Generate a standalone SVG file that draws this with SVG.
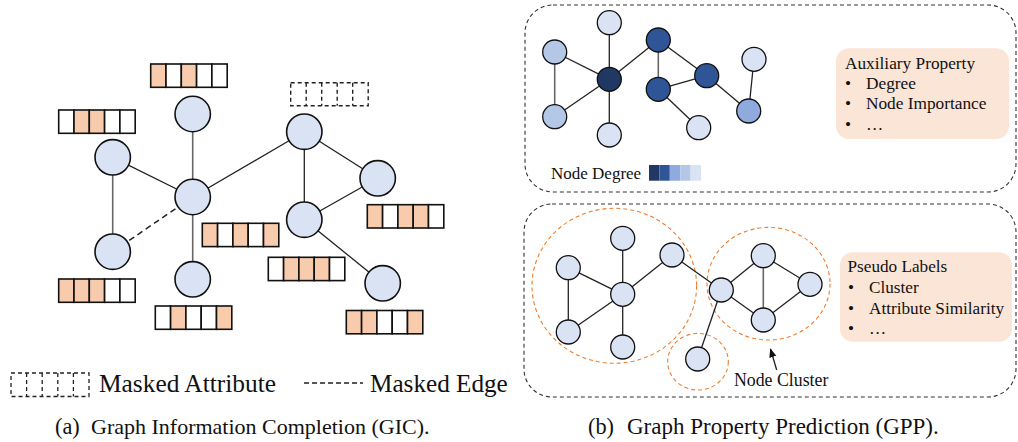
<svg xmlns="http://www.w3.org/2000/svg" width="1018" height="442" viewBox="0 0 1018 442">
<defs>
<style>
.t{font-family:"Liberation Serif","Times New Roman",serif;fill:#111}
.nd{fill:#dae3f3;stroke:#111;stroke-width:1.6}
.sn{stroke:#111;stroke-width:1.3}
.e{stroke:#222;stroke-width:1.3;fill:none}
.eg{stroke:#666;stroke-width:1.6;fill:none}
.ed{stroke:#222;stroke-width:1.5;fill:none;stroke-dasharray:6 4}
.cw{fill:#fff;stroke:#111;stroke-width:1.6}
.co{fill:#f8cbad;stroke:#111;stroke-width:1.6}
.box{fill:none;stroke:#333;stroke-width:1.1;stroke-dasharray:4 3}
.clu{fill:none;stroke:#ed7d31;stroke-width:1.1;stroke-dasharray:4 3}
.lbl{fill:#fbe5d6}
.l1{fill:#dae3f3}.l2{fill:#b4c7e7}.l3{fill:#8faadc}.l4{fill:#2f5597}.l5{fill:#203864}
</style>
<marker id="ar" viewBox="0 0 10 10" refX="9" refY="5" markerWidth="7" markerHeight="7" orient="auto-start-reverse">
<path d="M0,1 L10,5 L0,9 z" fill="#111"/>
</marker>
</defs>

<!-- (a) connectors -->
<g id="connectors-a">
<line class="e" x1="112.7" y1="157.3" x2="192.7" y2="197"/>
<line class="eg" x1="192.7" y1="114" x2="192.7" y2="197"/>
<line class="e" x1="192.7" y1="197" x2="304.3" y2="131.7"/>
<line class="eg" x1="112.7" y1="157.3" x2="112.7" y2="251.7"/>
<line class="ed" x1="112.7" y1="251.7" x2="192.7" y2="197"/>
<line class="eg" x1="192.7" y1="197" x2="192.7" y2="279.3"/>
<line class="e" x1="304.3" y1="131.7" x2="377.7" y2="178.3"/>
<line class="e" x1="304.3" y1="131.7" x2="304.3" y2="219.7"/>
<line class="e" x1="304.3" y1="219.7" x2="377.7" y2="178.3"/>
<line class="e" x1="304.3" y1="219.7" x2="382.7" y2="283.3"/>
</g>

<!-- (a) nodes -->
<g id="a-n1"><circle class="nd" cx="192.7" cy="114" r="17.7"/></g>
<g id="a-n2"><circle class="nd" cx="112.7" cy="157.3" r="17.7"/></g>
<g id="a-n3"><circle class="nd" cx="192.7" cy="197" r="17.7"/></g>
<g id="a-n4"><circle class="nd" cx="112.7" cy="251.7" r="17.7"/></g>
<g id="a-n5"><circle class="nd" cx="192.7" cy="279.3" r="17.7"/></g>
<g id="a-n6"><circle class="nd" cx="304.3" cy="131.7" r="17.7"/></g>
<g id="a-n7"><circle class="nd" cx="377.7" cy="178.3" r="17.7"/></g>
<g id="a-n8"><circle class="nd" cx="304.3" cy="219.7" r="17.7"/></g>
<g id="a-n9"><circle class="nd" cx="382.7" cy="283.3" r="17.7"/></g>

<!-- attribute vectors -->
<g id="attr-n1" transform="translate(150.7,64)">
<rect class="co" x="0" y="0" width="15.3" height="23.3"/><rect class="cw" x="15.3" y="0" width="15.3" height="23.3"/><rect class="co" x="30.6" y="0" width="15.3" height="23.3"/><rect class="cw" x="45.9" y="0" width="15.3" height="23.3"/><rect class="cw" x="61.2" y="0" width="15.3" height="23.3"/>
</g>
<g id="attr-n2" transform="translate(58.7,110)">
<rect class="cw" x="0" y="0" width="15.3" height="23.3"/><rect class="co" x="15.3" y="0" width="15.3" height="23.3"/><rect class="co" x="30.6" y="0" width="15.3" height="23.3"/><rect class="cw" x="45.9" y="0" width="15.3" height="23.3"/><rect class="cw" x="61.2" y="0" width="15.3" height="23.3"/>
</g>
<g id="attr-n3" transform="translate(202.3,223.3)">
<rect class="co" x="0" y="0" width="15.3" height="23.3"/><rect class="cw" x="15.3" y="0" width="15.3" height="23.3"/><rect class="co" x="30.6" y="0" width="15.3" height="23.3"/><rect class="cw" x="45.9" y="0" width="15.3" height="23.3"/><rect class="co" x="61.2" y="0" width="15.3" height="23.3"/>
</g>
<g id="attr-n4" transform="translate(58.7,279)">
<rect class="co" x="0" y="0" width="15.3" height="23.3"/><rect class="co" x="15.3" y="0" width="15.3" height="23.3"/><rect class="co" x="30.6" y="0" width="15.3" height="23.3"/><rect class="cw" x="45.9" y="0" width="15.3" height="23.3"/><rect class="cw" x="61.2" y="0" width="15.3" height="23.3"/>
</g>
<g id="attr-n5" transform="translate(155.3,306)">
<rect class="cw" x="0" y="0" width="15.3" height="23.3"/><rect class="co" x="15.3" y="0" width="15.3" height="23.3"/><rect class="cw" x="30.6" y="0" width="15.3" height="23.3"/><rect class="cw" x="45.9" y="0" width="15.3" height="23.3"/><rect class="co" x="61.2" y="0" width="15.3" height="23.3"/>
</g>
<g id="attr-n7" transform="translate(367.3,204.7)">
<rect class="co" x="0" y="0" width="15.3" height="23.3"/><rect class="cw" x="15.3" y="0" width="15.3" height="23.3"/><rect class="co" x="30.6" y="0" width="15.3" height="23.3"/><rect class="co" x="45.9" y="0" width="15.3" height="23.3"/><rect class="cw" x="61.2" y="0" width="15.3" height="23.3"/>
</g>
<g id="attr-n8" transform="translate(268.3,257.3)">
<rect class="cw" x="0" y="0" width="15.3" height="23.3"/><rect class="co" x="15.3" y="0" width="15.3" height="23.3"/><rect class="co" x="30.6" y="0" width="15.3" height="23.3"/><rect class="co" x="45.9" y="0" width="15.3" height="23.3"/><rect class="cw" x="61.2" y="0" width="15.3" height="23.3"/>
</g>
<g id="attr-n9" transform="translate(346.3,310.5)">
<rect class="co" x="0" y="0" width="15.3" height="23.3"/><rect class="co" x="15.3" y="0" width="15.3" height="23.3"/><rect class="cw" x="30.6" y="0" width="15.3" height="23.3"/><rect class="cw" x="45.9" y="0" width="15.3" height="23.3"/><rect class="co" x="61.2" y="0" width="15.3" height="23.3"/>
</g>
<g id="attr-n6-masked" transform="translate(290.7,82.7)" fill="none" stroke="#222" stroke-width="1.4" stroke-dasharray="4 3">
<rect x="0" y="0" width="77.5" height="23"/>
<line x1="15.5" y1="0" x2="15.5" y2="23"/><line x1="31" y1="0" x2="31" y2="23"/><line x1="46.5" y1="0" x2="46.5" y2="23"/><line x1="62" y1="0" x2="62" y2="23"/>
</g>

<!-- legend -->
<g id="legend">
<g transform="translate(11,373)" fill="none" stroke="#222" stroke-width="1.3" stroke-dasharray="4 3">
<rect x="0" y="0" width="78" height="23.5"/>
<line x1="15.6" y1="0" x2="15.6" y2="23.5"/><line x1="31.2" y1="0" x2="31.2" y2="23.5"/><line x1="46.8" y1="0" x2="46.8" y2="23.5"/><line x1="62.4" y1="0" x2="62.4" y2="23.5"/>
</g>
<text class="t" x="99" y="391.5" font-size="25.4">Masked Attribute</text>
<line x1="304" y1="383" x2="363" y2="383" stroke="#222" stroke-width="1.3" stroke-dasharray="5 3"/>
<text class="t" x="370" y="391.5" font-size="25.2">Masked Edge</text>
</g>
<g id="caption-a">
<text class="t" x="55" y="434" font-size="22.3">(a)</text>
<text class="t" x="91" y="434" font-size="22">Graph Information Completion (GIC).</text>
</g>

<!-- (b) top panel -->
<g id="panel-top">
<rect class="box" x="525" y="5" width="491" height="187" rx="28"/>
</g>
<g id="connectors-b1">
<line class="e" x1="609.3" y1="22.7" x2="609.3" y2="79.3"/>
<line class="e" x1="554.7" y1="52" x2="609.3" y2="79.3"/>
<line class="eg" x1="554.7" y1="52" x2="554.7" y2="116.7"/>
<line class="e" x1="554.7" y1="116.7" x2="609.3" y2="79.3"/>
<line class="e" x1="609.3" y1="79.3" x2="609.3" y2="135"/>
<line class="e" x1="609.3" y1="79.3" x2="658.3" y2="40"/>
<line class="eg" x1="658.3" y1="40" x2="658.3" y2="89.3"/>
<line class="e" x1="658.3" y1="40" x2="706.7" y2="75.7"/>
<line class="e" x1="658.3" y1="89.3" x2="706.7" y2="75.7"/>
<line class="e" x1="658.3" y1="89.3" x2="698.7" y2="127.7"/>
<line class="e" x1="706.7" y1="75.7" x2="748.7" y2="111"/>
<line class="e" x1="754" y1="59.3" x2="748.7" y2="111"/>
</g>
<g id="b1-a"><circle class="sn l1" cx="609.3" cy="22.7" r="12"/></g>
<g id="b1-b"><circle class="sn l2" cx="554.7" cy="52" r="12"/></g>
<g id="b1-c"><circle class="sn l5" cx="609.3" cy="79.3" r="12"/></g>
<g id="b1-d"><circle class="sn l2" cx="554.7" cy="116.7" r="12"/></g>
<g id="b1-e"><circle class="sn l1" cx="609.3" cy="135" r="12"/></g>
<g id="b1-f"><circle class="sn l4" cx="658.3" cy="40" r="12"/></g>
<g id="b1-g"><circle class="sn l4" cx="658.3" cy="89.3" r="12"/></g>
<g id="b1-h"><circle class="sn l4" cx="706.7" cy="75.7" r="12"/></g>
<g id="b1-i"><circle class="sn l1" cx="698.7" cy="127.7" r="12"/></g>
<g id="b1-j"><circle class="sn l1" cx="754" cy="59.3" r="12"/></g>
<g id="b1-k"><circle class="sn l3" cx="748.7" cy="111" r="12"/></g>
<g id="degree-legend">
<text class="t" x="551" y="178.5" font-size="17">Node Degree</text>
<rect class="l5" x="649" y="165" width="10.4" height="15.7"/>
<rect class="l4" x="659.4" y="165" width="10.4" height="15.7"/>
<rect class="l3" x="669.8" y="165" width="10.4" height="15.7"/>
<rect class="l2" x="680.2" y="165" width="10.4" height="15.7"/>
<rect class="l1" x="690.6" y="165" width="10.4" height="15.7"/>
</g>
<g id="aux-property">
<rect class="lbl" x="836" y="48.3" width="173" height="90.7" rx="13"/>
<text class="t" x="845" y="68.5" font-size="17.3">Auxiliary Property</text>
<text class="t" x="845" y="89.3" font-size="17.3">•</text>
<text class="t" x="866" y="89.3" font-size="17.3">Degree</text>
<text class="t" x="845" y="109.3" font-size="17.3">•</text>
<text class="t" x="866" y="109.3" font-size="17.3">Node Importance</text>
<text class="t" x="845" y="129.5" font-size="17.3">•</text>
<text class="t" x="866" y="129.5" font-size="17.3">…</text>
</g>

<!-- (b) bottom panel -->
<g id="panel-bottom">
<rect class="box" x="524" y="204" width="492" height="193" rx="28"/>
</g>
<g id="clusters">
<ellipse class="clu" cx="614.3" cy="285.8" rx="82.3" ry="77.5"/>
<ellipse class="clu" cx="768.5" cy="283.7" rx="61.5" ry="56.3"/>
<ellipse class="clu" cx="698" cy="361.7" rx="30.3" ry="28.3"/>
</g>
<g id="connectors-b2">
<line class="e" x1="622.7" y1="238.3" x2="622.7" y2="294.3"/>
<line class="e" x1="568.3" y1="267.7" x2="622.7" y2="294.3"/>
<line class="e" x1="568.3" y1="267.7" x2="568.3" y2="332"/>
<line class="e" x1="568.3" y1="332" x2="622.7" y2="294.3"/>
<line class="e" x1="622.7" y1="294.3" x2="622.7" y2="347"/>
<line class="e" x1="622.7" y1="294.3" x2="672" y2="255"/>
<line class="e" x1="672" y1="255" x2="721.3" y2="290"/>
<line class="e" x1="721.3" y1="290" x2="763.3" y2="255.7"/>
<line class="e" x1="721.3" y1="290" x2="763.3" y2="320"/>
<line class="e" x1="763.3" y1="255.7" x2="810" y2="284.3"/>
<line class="eg" x1="763.3" y1="255.7" x2="763.3" y2="320"/>
<line class="e" x1="763.3" y1="320" x2="810" y2="284.3"/>
<line class="e" x1="721.3" y1="290" x2="697.7" y2="359"/>
<line class="e" x1="776.7" y1="370" x2="770.5" y2="349" marker-end="url(#ar)"/>
</g>
<g id="b2-p"><circle class="sn l1" cx="622.7" cy="238.3" r="12"/></g>
<g id="b2-q"><circle class="sn l1" cx="568.3" cy="267.7" r="12"/></g>
<g id="b2-r"><circle class="sn l1" cx="622.7" cy="294.3" r="12"/></g>
<g id="b2-s"><circle class="sn l1" cx="568.3" cy="332" r="12"/></g>
<g id="b2-t"><circle class="sn l1" cx="622.7" cy="347" r="12"/></g>
<g id="b2-u"><circle class="sn l1" cx="672" cy="255" r="12"/></g>
<g id="b2-v"><circle class="sn l1" cx="721.3" cy="290" r="12"/></g>
<g id="b2-w"><circle class="sn l1" cx="763.3" cy="255.7" r="12"/></g>
<g id="b2-x"><circle class="sn l1" cx="763.3" cy="320" r="12"/></g>
<g id="b2-y"><circle class="sn l1" cx="810" cy="284.3" r="12"/></g>
<g id="b2-z"><circle class="sn l1" cx="697.7" cy="359" r="12"/></g>
<text class="t" x="734" y="386" font-size="17.8">Node Cluster</text>
<g id="pseudo-labels">
<rect class="lbl" x="840" y="252.3" width="172" height="89.4" rx="13"/>
<text class="t" x="847.5" y="272" font-size="17.2">Pseudo Labels</text>
<text class="t" x="848" y="293.3" font-size="17.2">•</text>
<text class="t" x="869" y="293.3" font-size="17.2">Cluster</text>
<text class="t" x="848" y="314" font-size="17.2">•</text>
<text class="t" x="869" y="314" font-size="17.2">Attribute Similarity</text>
<text class="t" x="848" y="334" font-size="17.2">•</text>
<text class="t" x="869" y="334" font-size="17.2">…</text>
</g>
<g id="caption-b">
<text class="t" x="588" y="434" font-size="22.3">(b)</text>
<text class="t" x="627" y="434" font-size="23">Graph Property Prediction (GPP).</text>
</g>
</svg>
